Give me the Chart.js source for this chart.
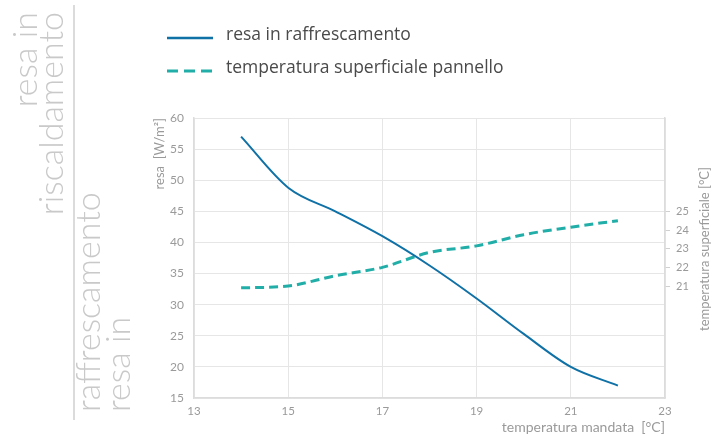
<!DOCTYPE html>
<html>
<head>
<meta charset="utf-8">
<script src="https://cdn.jsdelivr.net/npm/chart.js@4/dist/chart.umd.min.js"></script>
<style>
  html, body { margin: 0; padding: 0; background: #ffffff; }
  #wrap { width: 725px; height: 436px; position: relative; }
</style>
</head>
<body>
<div id="wrap"><canvas id="c" width="725" height="436"></canvas></div>
<script>
// ---- data ----
const mandataTemps = [14, 15, 16, 17, 18, 19, 20, 21, 22];
const resaRaffrescamento = [57, 48.8, 45, 41, 36.3, 31, 25.3, 20, 17];
const tempSuperficiale = [20.9, 21.0, 21.55, 22.0, 22.8, 23.15, 23.75, 24.15, 24.5];
const rightTicks = [21, 22, 23, 24, 25];
const seriesLabels = ['resa in raffrescamento', 'temperatura superficiale pannello'];
const sideTitles = [['resa in', 'riscaldamento'], ['raffrescamento', 'resa in']];
const axisTitles = { x: 'temperatura mandata  [°C]', y: 'resa  [W/m²]', y2: 'temperatura superficiale [°C]' };

const FONT = 'Lato, "Open Sans", sans-serif';
const LEGFONT = '"Open Sans", Lato, sans-serif';
const BLUE = '#0f71a6';
const TEAL = '#22aea8';
const TICK = '#9a9a9a';
const GRID = '#e6e6e6';

const decor = {
  id: 'decor',
  afterDraw(chart) {
    const ctx = chart.ctx;
    ctx.save();
    // big rotated side titles
    ctx.fillStyle = '#c9c9c9';
    ctx.font = '300 34px ' + FONT;
    ctx.textBaseline = 'alphabetic';
    const drawRot = (txt, bx, ay, align) => {
      ctx.save();
      ctx.translate(bx, ay);
      ctx.rotate(-Math.PI / 2);
      ctx.textAlign = align;
      ctx.fillText(txt, 0, 0);
      ctx.restore();
    };
    drawRot(sideTitles[0][0], 37, 12, 'right');
    drawRot(sideTitles[0][1], 63, 12, 'right');
    drawRot(sideTitles[1][0], 100, 412, 'left');
    drawRot(sideTitles[1][1], 130, 412, 'left');
    // right axis title
    ctx.fillStyle = TICK;
    ctx.font = '13px ' + FONT;
    ctx.save();
    ctx.translate(705, 249);
    ctx.rotate(-Math.PI / 2);
    ctx.textAlign = 'center';
    ctx.textBaseline = 'middle';
    ctx.fillText(axisTitles.y2, 0, 0);
    ctx.restore();
    // separator line
    ctx.strokeStyle = '#cfcfcf';
    ctx.lineWidth = 1.5;
    ctx.beginPath();
    ctx.moveTo(74, 5);
    ctx.lineTo(74, 420);
    ctx.stroke();
    // legend
    const ds = chart.data.datasets;
    const rows = [38, 71];
    ctx.font = '17.5px ' + LEGFONT;
    ctx.textAlign = 'left';
    ctx.textBaseline = 'middle';
    ds.forEach((d, i) => {
      const y = rows[i];
      ctx.strokeStyle = d.borderColor;
      ctx.lineWidth = i === 0 ? 2.5 : 3;
      ctx.setLineDash(i === 0 ? [] : [11, 6]);
      ctx.beginPath();
      ctx.moveTo(167, y);
      ctx.lineTo(213, y);
      ctx.stroke();
      ctx.setLineDash([]);
      ctx.fillStyle = '#4a4a4a';
      ctx.fillText(d.label, 226, y - 3);
    });
    ctx.restore();
  }
};

new Chart(document.getElementById('c'), {
  type: 'line',
  data: {
    labels: mandataTemps,
    datasets: [
      {
        label: seriesLabels[0],
        data: mandataTemps.map((x, i) => ({ x, y: resaRaffrescamento[i] })),
        borderColor: BLUE,
        borderWidth: 2,
        pointRadius: 0,
        tension: 0.4,
        cubicInterpolationMode: 'monotone',
        yAxisID: 'y',
        fill: false
      },
      {
        label: seriesLabels[1],
        data: mandataTemps.map((x, i) => ({ x, y: tempSuperficiale[i] })),
        borderColor: TEAL,
        borderWidth: 3,
        borderDash: [9, 5],
        pointRadius: 0,
        tension: 0.4,
        cubicInterpolationMode: 'monotone',
        yAxisID: 'y2',
        fill: false
      }
    ]
  },
  options: {
    responsive: false,
    animation: false,
    devicePixelRatio: 1,
    layout: { padding: { left: 150, top: 118, right: 0, bottom: 0 } },
    plugins: { legend: { display: false }, tooltip: { enabled: false } },
    scales: {
      x: {
        type: 'linear',
        min: 13, max: 23,
        ticks: { stepSize: 2, color: TICK, font: { family: FONT, size: 11.5 }, padding: 6 },
        grid: { color: GRID, drawTicks: false, lineWidth: 1 },
        border: { color: '#dcdcdc', width: 1.5 },
        title: { display: true, text: axisTitles.x, align: 'end', color: TICK, font: { family: FONT, size: 14 }, padding: { top: 0, bottom: 0 } },
        afterFit(s) { s.height = 38; }
      },
      y: {
        position: 'left',
        min: 15, max: 60,
        ticks: { stepSize: 5, color: TICK, font: { family: FONT, size: 12 }, padding: 10 },
        grid: { color: GRID, drawTicks: false, lineWidth: 1 },
        border: { color: '#dcdcdc', width: 1.5 },
        title: { display: true, text: axisTitles.y, align: 'end', color: TICK, font: { family: FONT, size: 13 }, padding: { top: 2, bottom: 0 } },
        afterFit(s) { s.width = 44; }
      },
      y2: {
        position: 'right',
        min: 15, max: 30,
        afterBuildTicks(s) { s.ticks = rightTicks.map(v => ({ value: v })); },
        ticks: { color: TICK, font: { family: FONT, size: 11 }, padding: 6 },
        grid: { drawOnChartArea: false, drawTicks: true, tickLength: 5, color: '#d0d0d0' },
        border: { color: '#dcdcdc', width: 1.5 },
        title: { display: false },
        afterFit(s) { s.width = 60; }
      }
    }
  },
  plugins: [decor]
});
</script>
</body>
</html>
